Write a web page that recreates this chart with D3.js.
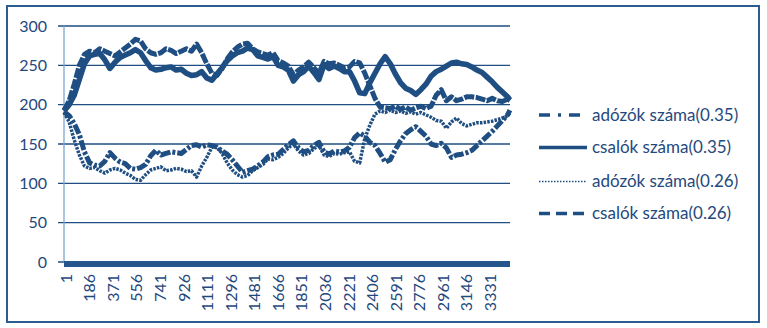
<!DOCTYPE html>
<html><head><meta charset="utf-8">
<script src="https://cdn.jsdelivr.net/npm/d3@7"></script>
<style>
body{margin:0;background:#fff}
svg{display:block}
text{font-family:Lato,"Open Sans",sans-serif;fill:#1F497D}
</style>
</head><body>
<svg id="c" width="767" height="328"></svg>
<script>
// sample positions (step index of the simulation)
const steps = [1,41,81,121,161,201,241,281,321,361,401,441,481,521,561,601,641,681,721,761,801,841,881,921,961,1001,1041,1081,1121,1161,1201,1241,1281,1321,1361,1401,1441,1481,1521,1561,1601,1641,1681,1721,1761,1801,1841,1881,1921,1961,2001,2041,2081,2121,2161,2201,2241,2281,2321,2361,2401,2441,2481,2521,2561,2601,2641,2681,2721,2761,2801,2841,2881,2921,2961,3001,3041,3081,3121,3161,3201,3241,3281,3321,3361,3401,3441,3481,3500];

const adozok035 = [191,186,176,162,140,126,123,122,128,139,132,127,125,119,118,120,124,135,142,136,138,140,139,138,143,148,149,146,149,148,146,141,137,130,122,114,116,118,122,127,134,136,137,143,149,154,145,140,142,148,152,140,137,141,140,141,146,158,164,160,152,148,138,127,130,143,154,163,168,172,166,160,150,148,151,145,133,136,137,139,142,148,154,160,166,173,180,187,193];
const csalok035 = [192,200,212,232,252,262,264,265,257,246,254,260,263,266,270,266,256,247,244,245,247,248,244,245,240,237,238,242,234,231,239,247,256,262,266,268,272,270,262,260,258,261,250,248,244,230,238,242,249,241,232,251,246,249,246,242,242,230,215,214,228,240,252,261,252,239,228,221,218,213,219,226,236,242,245,249,253,254,252,251,248,244,241,235,229,222,216,210,206];
const adozok026 = [190,178,155,136,122,119,120,116,113,117,119,117,113,110,105,104,111,117,119,121,116,117,119,118,115,116,108,122,133,146,146,138,126,117,111,108,110,116,120,124,131,130,133,138,145,150,141,136,138,144,148,136,134,138,137,139,140,128,126,157,174,188,192,190,193,190,192,189,191,188,190,187,184,180,179,170,178,183,176,173,175,177,177,178,179,181,183,186,189];
const csalok026 = [193,205,226,250,264,268,266,271,268,265,262,267,272,277,283,281,271,266,264,266,271,269,265,268,271,268,277,266,252,240,237,246,258,267,273,277,278,271,267,265,263,266,256,253,249,238,244,248,254,247,240,255,252,253,250,247,248,255,253,240,224,208,197,196,195,198,194,197,193,196,198,195,198,212,219,205,210,205,207,210,210,209,207,205,208,205,204,207,205];

const seriesNames = ["adózók száma(0.35)","csalók száma(0.35)","adózók száma(0.26)","csalók száma(0.26)"];
const xTickLabels = [1,186,371,556,741,926,1111,1296,1481,1666,1851,2036,2221,2406,2591,2776,2961,3146,3331];
const yTicks = [0,50,100,150,200,250,300];

const COL = "#1F4E82";
const series = [
  {name: seriesNames[0], values: adozok035, w: 5, dash: "10,2,3,2", lw: 3.5, ldash: "11,8,3,8"},
  {name: seriesNames[1], values: csalok035, w: 5.5, dash: null, lw: 3.5, ldash: null},
  {name: seriesNames[2], values: adozok026, w: 3.5, dash: "2.5,1.2", lw: 1.5, ldash: "1.5,1.5"},
  {name: seriesNames[3], values: csalok026, w: 5, dash: "10,1.5", lw: 3.5, ldash: "11,6"}
];

const svg = d3.select("#c");
svg.append("rect").attr("x",7).attr("y",6).attr("width",752).attr("height",316)
  .attr("fill","#fff").attr("stroke","#2A5C8F").attr("stroke-width",2);

const x = d3.scaleLinear().domain([0.5, 3500.5]).range([64, 510]);
const y = d3.scaleLinear().domain([0, 300]).range([262, 26]);

// gridlines + y labels
const g = svg.append("g");
g.selectAll("line.grid").data(yTicks).join("line")
  .attr("x1", 58).attr("x2", 510)
  .attr("y1", d => y(d)).attr("y2", d => y(d))
  .attr("stroke", COL).attr("stroke-width", 1.3);
g.selectAll("text.yl").data(yTicks).join("text")
  .attr("x", 47).attr("y", d => y(d)).attr("dy","0.35em")
  .attr("text-anchor","end").attr("font-size",16).text(d => d);

// y axis line
svg.append("line").attr("x1",64).attr("x2",64).attr("y1",y(300)).attr("y2",y(0))
  .attr("stroke","#7EA6D3").attr("stroke-width",1.3);

// lines
const line = d3.line().x((d,i) => x(steps[i])).y(d => y(d));
series.forEach(s => {
  svg.append("path").datum(s.values)
    .attr("d", line).attr("fill","none")
    .attr("stroke", COL).attr("stroke-width", s.w)
    .attr("stroke-linejoin","round")
    .attr("stroke-dasharray", s.dash);
});

// dense category tick band along x axis
svg.append("rect").attr("x",64).attr("y",261).attr("width",446).attr("height",6).attr("fill","#25578C");

// x labels
svg.selectAll("text.xl").data(xTickLabels).join("text")
  .attr("transform", d => `translate(${x(d)+2},274) rotate(-90)`)
  .attr("dy","0.35em").attr("text-anchor","end").attr("font-size",16).text(d => d);

// legend
const ly = [115, 147.5, 181.5, 213.5];
series.forEach((s,i) => {
  svg.append("line").attr("x1",539).attr("x2",587).attr("y1",ly[i]).attr("y2",ly[i])
    .attr("stroke",COL).attr("stroke-width",s.lw).attr("stroke-dasharray",s.ldash);
  svg.append("text").attr("x",592).attr("y",ly[i]).attr("dy","0.35em")
    .attr("font-size",17).text(s.name);
});
</script>
</body></html>
